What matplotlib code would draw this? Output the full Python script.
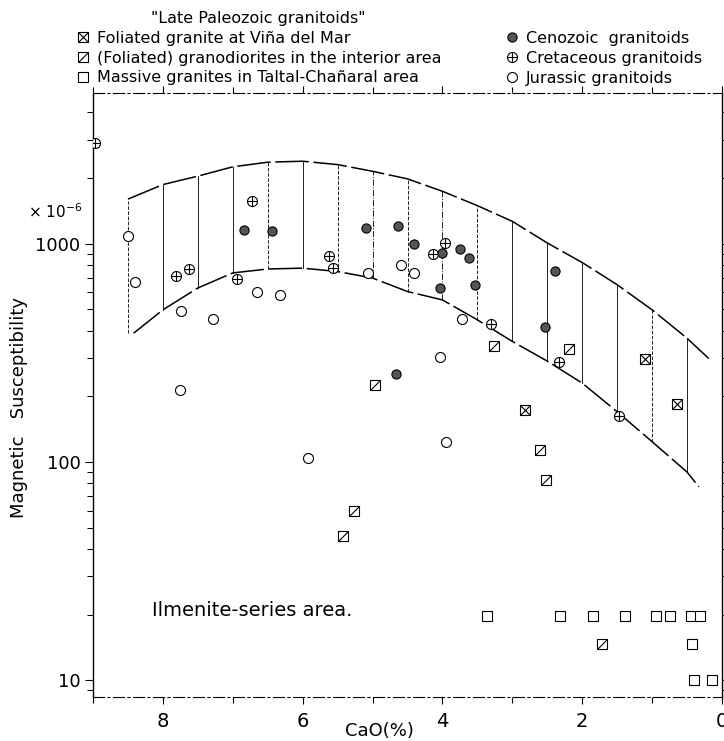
import numpy as np
import matplotlib
matplotlib.use('Agg')
import matplotlib.pyplot as plt
from matplotlib.lines import Line2D
from matplotlib.path import Path
from matplotlib.ticker import FixedLocator, LogLocator, NullFormatter, FixedFormatter

plt.rcParams['font.family'] = ['DejaVu Sans']

# CaO (%) vs magnetic susceptibility (x 10^-6)
ceno_cao = [6.84, 6.44, 5.09, 4.63, 4.40, 4.01, 3.75, 3.62, 4.03, 3.53, 2.39, 2.53, 4.67]
ceno_sus = [1150, 1145, 1180, 1200, 995, 910, 945, 860, 630, 650, 750, 415, 252]

cret_cao = [8.97, 7.81, 7.63, 6.94, 6.72, 5.63, 5.56, 3.96, 4.14, 3.31, 2.33, 1.48]
cret_sus = [2900, 708, 767, 689, 1563, 881, 778, 1008, 902, 429, 286, 162]

jura_cao = [8.50, 8.40, 7.74, 7.28, 6.65, 6.32, 5.07, 4.59, 4.41, 7.75, 5.92, 3.72, 4.04, 3.95]
jura_sus = [1080, 670, 493, 452, 600, 583, 738, 795, 735, 214, 104, 450, 304, 123]

vina_cao = [1.10, 2.82, 0.64]
vina_sus = [296, 173, 185]

grano_cao = [4.97, 3.26, 2.19, 2.61, 2.52, 5.27, 5.42, 1.72]
grano_sus = [225, 341, 329, 114, 83, 60, 46, 14.7]

mass_cao = [3.36, 2.32, 1.85, 1.39, 0.95, 0.75, 0.45, 0.32, 0.43, 0.40, 0.14]
mass_sus = [19.8, 19.8, 19.8, 19.8, 19.8, 19.8, 19.8, 19.8, 14.7, 10, 10]

# magnetite/ilmenite band: upper and lower boundary curves
up_cao = [8.5, 8.0, 7.5, 7.0, 6.5, 6.0, 5.5, 5.0, 4.5, 4.0, 3.5, 3.0, 2.5, 2.0, 1.5, 1.0, 0.5, 0.19]
up_sus = [1600, 1866, 2039, 2250, 2362, 2387, 2303, 2146, 1981, 1738, 1494, 1266, 1008, 820, 649, 498, 369, 298]
lo_cao = [8.42, 8.0, 7.5, 7.0, 6.5, 6.0, 5.5, 5.0, 4.5, 4.0, 3.5, 3.0, 2.5, 2.0, 1.5, 1.0, 0.5, 0.33]
lo_sus = [389, 498, 627, 735, 766, 773, 746, 696, 604, 553, 448, 357, 290, 230, 170, 124, 90, 77]

# vertical hatch lines inside the band
hatch_cao = [8.5, 8.0, 7.5, 7.0, 6.5, 6.0, 5.5, 5.0, 4.5, 4.0, 3.5, 3.0, 2.5, 2.0, 1.5, 1.0, 0.5]
hatch_top = [1563, 1866, 2039, 2250, 2362, 2387, 2303, 2146, 1981, 1738, 1494, 1266, 1008, 820, 649, 498, 369]
hatch_bot = [389, 498, 627, 735, 766, 773, 746, 696, 604, 553, 448, 357, 290, 230, 170, 124, 90]
hatch_ls = ['--', '-', '-', '-', '--', '-', '--', '-.', '--', '-.', '--', '-', '-', '-', '-', '--', '-']

fig = plt.figure(figsize=(7.24, 7.41), dpi=100)
ax = fig.add_axes([93/724, 1-697/741, (722-93)/724, (697-93)/741])
ax.set_yscale('log')
ax.set_xlim(9.0, 0.0)
ax.set_ylim(8.4, 4900)

for xc, yt, yb, ls in zip(hatch_cao, hatch_top, hatch_bot, hatch_ls):
    ax.plot([xc, xc], [yb, yt], color='#222222', lw=0.7, ls=ls, zorder=1)

ax.plot(up_cao, up_sus, color='black', lw=1.1, ls=(0, (22, 3)), zorder=2)
ax.plot(lo_cao, lo_sus, color='black', lw=1.1, ls=(0, (22, 3)), zorder=2)

slash = Path([(-1, -1), (1, 1)])
ms_c = 7.2
ms_s = 6.5
kw = dict(ls='none', mec='black', mew=0.8, zorder=3)

ax.plot(jura_cao, jura_sus, marker='o', ms=ms_c, mfc='white', **kw)
ax.plot(cret_cao, cret_sus, marker='o', ms=ms_c, mfc='white', **kw)
ax.plot(cret_cao, cret_sus, marker='+', ms=ms_c, **kw)
ax.plot(ceno_cao, ceno_sus, marker='o', ms=6.6, mfc='#555555', **kw)
ax.plot(mass_cao, mass_sus, marker='s', ms=ms_s, mfc='white', **kw)
ax.plot(grano_cao, grano_sus, marker='s', ms=ms_s, mfc='white', **kw)
ax.plot(grano_cao, grano_sus, marker=slash, ms=ms_s, mfc='none', **kw)
ax.plot(vina_cao, vina_sus, marker='s', ms=ms_s, mfc='white', **kw)
ax.plot(vina_cao, vina_sus, marker='x', ms=ms_s, **kw)

ax.text(8.16, 21, 'Ilmenite-series area.', fontsize=14, ha='left', va='center')

# axes styling
for s in ['top', 'bottom']:
    ax.spines[s].set_linestyle((0, (10, 3, 2, 3)))
    ax.spines[s].set_linewidth(0.8)
for s in ['left', 'right']:
    ax.spines[s].set_linewidth(1.0)

ax.xaxis.set_major_locator(FixedLocator([8, 6, 4, 2, 0]))
ax.xaxis.set_minor_locator(FixedLocator([9, 7, 5, 3, 1]))
ax.xaxis.set_major_formatter(FixedFormatter(['8', '6', '4', '2', '0']))
ax.tick_params(axis='x', which='major', direction='out', length=5, width=0.8,
               labelsize=14, pad=6, top=True)
ax.tick_params(axis='x', which='minor', direction='out', length=4, width=0.8, top=True)

ax.yaxis.set_major_locator(FixedLocator([10, 100, 1000]))
ax.yaxis.set_major_formatter(FixedFormatter(['10', '100', '1000']))
ax.yaxis.set_minor_locator(LogLocator(base=10, subs=np.arange(2, 10)))
ax.yaxis.set_minor_formatter(NullFormatter())
ax.tick_params(axis='y', which='major', direction='out', length=6, width=0.8,
               labelsize=13, pad=3, right=True)
ax.tick_params(axis='y', which='minor', direction='out', length=4, width=0.7, right=True)

ax.set_xlabel('CaO(%)', fontsize=13)
ax.xaxis.set_label_coords(0.456, -0.042)
ax.set_ylabel('Magnetic   Susceptibility', fontsize=13)
ax.yaxis.set_label_coords(-0.103, 0.48)

fig.text(55/724, 1-212/741, '× 10$^{-6}$', fontsize=11, ha='center', va='center')

# legends
def mk(marker, mfc='white', ms=ms_s):
    return Line2D([], [], ls='none', marker=marker, ms=ms, mfc=mfc, mec='black', mew=0.8)

left_handles = [(mk('s'), mk('x')), (mk('s'), mk(slash, mfc='none')), mk('s')]
left_labels = ['Foliated granite at Viña del Mar',
               '(Foliated) granodiorites in the interior area',
               'Massive granites in Taltal-Chañaral area']
right_handles = [mk('o', '#555555', 6.6), (mk('o', ms=ms_c), mk('+', ms=ms_c)), mk('o', ms=ms_c)]
right_labels = ['Cenozoic  granitoids', 'Cretaceous granitoids', 'Jurassic granitoids']

fig.legend(left_handles, left_labels, title='"Late Paleozoic granitoids"',
           loc='upper left', bbox_to_anchor=(75/724, 1-11/741), frameon=False,
           fontsize=11.5, title_fontsize=11.5, handlelength=1.0, handletextpad=0.4,
           labelspacing=0.3, borderpad=0, borderaxespad=0)
fig.legend(right_handles, right_labels, loc='upper left',
           bbox_to_anchor=(504/724, 1-31/741), frameon=False,
           fontsize=11.5, handlelength=1.0, handletextpad=0.4,
           labelspacing=0.3, borderpad=0, borderaxespad=0)

fig.savefig('out.png', dpi=100)
